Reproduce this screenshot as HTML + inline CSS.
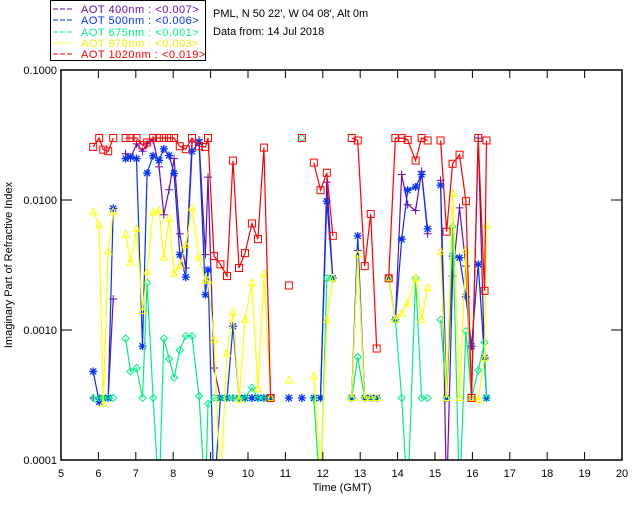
<!DOCTYPE html>
<html><head><meta charset="utf-8"><style>
html,body{margin:0;padding:0;background:#fff;}
svg{display:block;font-family:"Liberation Sans",sans-serif;}
</style></head><body>
<svg id="chart" width="640" height="512" viewBox="0 0 640 512">
<rect x="0" y="0" width="640" height="512" fill="#fff"/>
<g>
<rect x="50.5" y="0.5" width="155" height="60" fill="none" stroke="#000" stroke-width="1"/>
<g font-size="11" letter-spacing="0.5">
<line x1="53" y1="9" x2="73" y2="9" stroke="#6a0dad" stroke-dasharray="5,2"/><text x="81" y="13" fill="#6a0dad">AOT  400nm : &lt;0.007&gt;</text>
<line x1="53" y1="20" x2="73" y2="20" stroke="#0033ff" stroke-dasharray="5,2"/><text x="81" y="24" fill="#0033ff">AOT  500nm : &lt;0.006&gt;</text>
<line x1="53" y1="32" x2="73" y2="32" stroke="#00ee88" stroke-dasharray="5,2"/><text x="81" y="36" fill="#00ee88">AOT  675nm : &lt;0.001&gt;</text>
<line x1="53" y1="43" x2="73" y2="43" stroke="#ffff00" stroke-dasharray="5,2"/><text x="81" y="47" fill="#eeee00">AOT  870nm : &lt;0.003&gt;</text>
<line x1="53" y1="54" x2="73" y2="54" stroke="#ff0000" stroke-dasharray="5,2"/><text x="81" y="58" fill="#ff0000">AOT 1020nm : &lt;0.019&gt;</text>
</g></g>
<text x="213" y="17" font-size="11">PML, N 50 22', W 04 08', Alt 0m</text>
<text x="213" y="35" font-size="11">Data from: 14 Jul 2018</text>
<text x="342" y="491" font-size="11" text-anchor="middle">Time (GMT)</text>
<text x="12" y="265" font-size="11" text-anchor="middle" transform="rotate(-90 12 265)">Imaginary Part of Refractive Index</text>
<defs><clipPath id="pc"><rect x="61" y="70" width="561" height="390"/></clipPath></defs>
<g id="axes"></g>
<g id="series" clip-path="url(#pc)"></g>
<rect x="61" y="70" width="561" height="390" fill="none" stroke="#000" stroke-width="1.5"/>
</svg>
<script>
const times = [5.862,6.022,6.129,6.262,6.396,6.727,6.860,7.020,7.180,7.303,7.463,7.623,7.749,7.890,8.024,8.176,8.336,8.504,8.691,8.862,8.931,9.091,9.262,9.438,9.598,9.759,9.919,10.105,10.266,10.426,10.605,11.093,11.440,11.760,11.939,12.107,12.267,12.774,12.934,13.121,13.281,13.441,13.762,13.940,14.109,14.269,14.482,14.642,14.803,15.149,15.309,15.470,15.656,15.827,15.977,16.156,16.324,16.377];
const aot400 = [0.0003,0.0003,0.0003,0.0003,0.00173,0.0227,0.021,0.027,0.0237,0.027,0.029,0.018,0.0077,0.012,0.0208,0.0055,0.003,0.028,0.029,0.0038,0.015,0.00051,0.0003,0.0003,0.0003,0.0003,0.0003,0.0003,0.0003,0.0003,0.0003,0.0003,0.0003,0.0003,0.0003,0.0137,0.0025,0.0003,0.0041,0.0003,0.0003,0.0003,0.0025,0.0012,0.0157,0.0092,0.0083,0.0166,0.0055,0.0142,0.00005,0.0026,0.0087,0.0031,0.0003,0.030,0.0006,0.0003];
const aot500 = [0.00048,0.00028,0.0003,0.0003,0.0086,0.0208,0.0214,0.0208,0.00075,0.0161,0.0219,0.0202,0.0247,0.022,0.016,0.0038,0.00255,0.0237,0.0277,0.00187,0.0029,0.00005,0.0003,0.0003,0.00107,0.0003,0.0003,0.0003,0.0003,0.0003,0.0003,0.0003,0.0003,0.0003,0.0003,0.0098,0.0025,0.0003,0.0053,0.0003,0.0003,0.0003,0.0025,0.0012,0.005,0.0119,0.0126,0.0157,0.006,0.013,0.0003,0.0037,0.0036,0.0018,0.00075,0.0032,0.00061,0.0003];
const aot675 = [0.0003,0.0003,0.0003,0.0003,0.0003,0.00086,0.00048,0.00051,0.0003,0.0023,0.0003,0.00005,0.00086,0.0006,0.00043,0.0007,0.0009,0.0009,0.00031,0.00005,0.00027,0.0003,0.0003,0.0003,0.0003,0.0003,0.0003,0.00036,0.0003,0.0003,0.0003,null,0.030,0.0003,0.00005,0.0025,0.0025,0.0003,0.00062,0.0003,0.0003,0.0003,0.0025,0.0012,0.0003,0.00005,0.0025,0.0003,0.0003,0.0012,0.0003,0.0062,0.00005,0.00098,0.0003,0.00049,0.0008,0.0003];
const aot870 = [0.0081,0.0064,0.00027,0.004,0.0081,0.0054,0.0033,0.006,0.0014,0.0028,0.008,0.0083,0.0036,0.0072,0.0027,0.0031,0.0045,0.0087,0.0036,0.0024,0.0024,0.00084,0.00006,0.00066,0.00136,0.00029,0.0012,0.0023,0.00035,0.0027,0.0003,0.00041,null,0.00044,0.00007,0.0012,0.0025,0.0003,0.0038,0.0003,0.0003,0.0003,0.0025,0.0012,0.00134,0.0016,0.0025,0.0012,0.0021,0.004,0.0003,0.0112,0.0003,0.0041,0.0003,0.00029,0.00061,0.0064];
const aot1020 = [0.0256,0.030,0.0244,0.0237,0.030,0.030,0.030,0.030,0.0264,0.0277,0.030,0.030,0.030,0.030,0.030,0.0259,0.0246,0.030,0.0259,0.0256,0.030,0.0037,0.0032,0.0026,0.0201,0.0030,0.0039,0.0066,0.005,0.0253,0.0003,0.0022,0.030,0.0194,0.0119,0.0162,0.0053,0.030,0.0287,0.0031,0.0078,0.00072,0.0025,0.030,0.030,0.029,0.0201,0.030,0.0287,0.0287,0.0057,0.019,0.0223,0.0098,0.0003,0.030,0.002,0.0287];
const xTicks = [5,6,7,8,9,10,11,12,13,14,15,16,17,18,19,20];
const yTicks = [0.0001,0.001,0.01,0.1];
const yTickLabels = ["0.0001","0.0010","0.0100","0.1000"];

const NS = "http://www.w3.org/2000/svg";
const X0=61, X1=622, Y0=70, Y1=460;
function xs(h){ return X0 + (h-5)/(20-5)*(X1-X0); }
function ys(v){ return Y1 - (Math.log10(v)+4)/3*(Y1-Y0); }
function mk(tag, attrs, parent){ const e=document.createElementNS(NS,tag); for(const k in attrs) e.setAttribute(k, attrs[k]); parent.appendChild(e); return e; }

const axes=document.getElementById('axes');
xTicks.forEach(t=>{
  const x=xs(t);
  const l1=mk('line',{x1:x,y1:Y1,x2:x,y2:Y1-8,stroke:'#000'},axes);
  
  
  mk('line',{x1:x,y1:Y0,x2:x,y2:Y0+8,stroke:'#000'},axes);
  const tx=mk('text',{x:x,y:477,'font-size':11,'text-anchor':'middle'},axes);
  tx.textContent=String(t);
  
  
});
yTicks.forEach((t,i)=>{
  const y=ys(t);
  const l1=mk('line',{x1:X0,y1:y,x2:X0+11,y2:y,stroke:'#000'},axes);
  
  
  mk('line',{x1:X1,y1:y,x2:X1-11,y2:y,stroke:'#000'},axes);
  const tx=mk('text',{x:57,y:y+4,'font-size':11,'text-anchor':'end'},axes);
  tx.textContent=yTickLabels[i];
  
  
});

const seriesG=document.getElementById('series');
const seriesDefs=[
  {name:'aot-400',vals:aot400,color:'#6a0dad',m:'plus'},
  {name:'aot-500',vals:aot500,color:'#0033ff',m:'star'},
  {name:'aot-675',vals:aot675,color:'#00ee88',m:'diamond'},
  {name:'aot-870',vals:aot870,color:'#ffff00',m:'tri'},
  {name:'aot-1020',vals:aot1020,color:'#ff0000',m:'square'}
];
function marker(type,x,y,c,g){
  let e;
  if(type==='plus') e=mk('path',{d:`M${x-4},${y}H${x+4}M${x},${y-4}V${y+4}`,stroke:c,fill:'none'},g);
  else if(type==='star') e=mk('path',{d:`M${x-4},${y}H${x+4}M${x},${y-4}V${y+4}M${x-3},${y-3}L${x+3},${y+3}M${x-3},${y+3}L${x+3},${y-3}`,stroke:c,fill:'none','stroke-width':1.3},g);
  else if(type==='diamond') e=mk('path',{d:`M${x},${y-3.5}L${x+3.5},${y}L${x},${y+3.5}L${x-3.5},${y}Z`,stroke:c,fill:'none'},g);
  else if(type==='tri') e=mk('path',{d:`M${x},${y-4}L${x+3.5},${y+2.5}L${x-3.5},${y+2.5}Z`,stroke:c,fill:'none'},g);
  else e=mk('rect',{x:x-3.5,y:y-3.5,width:7,height:7,stroke:c,fill:'none'},g);
  
  
}
seriesDefs.forEach(s=>{
  const g=mk('g',{},seriesG);
  
  
  let d='', prevT=null;
  s.vals.forEach((v,i)=>{
    if(v===null){ prevT=null; return; }
    const x=xs(times[i]), y=ys(v);
    if(prevT!==null && times[i]-prevT<0.28) d+=`L${x.toFixed(1)},${y.toFixed(1)}`;
    else d+=`M${x.toFixed(1)},${y.toFixed(1)}`;
    prevT=times[i];
  });
  const p=mk('path',{d:d,stroke:s.color,fill:'none','stroke-width':1.2},g);
  
  
  s.vals.forEach((v,i)=>{ if(v!==null) marker(s.m,xs(times[i]),ys(v),s.color,g); });
});
</script>
</body></html>
